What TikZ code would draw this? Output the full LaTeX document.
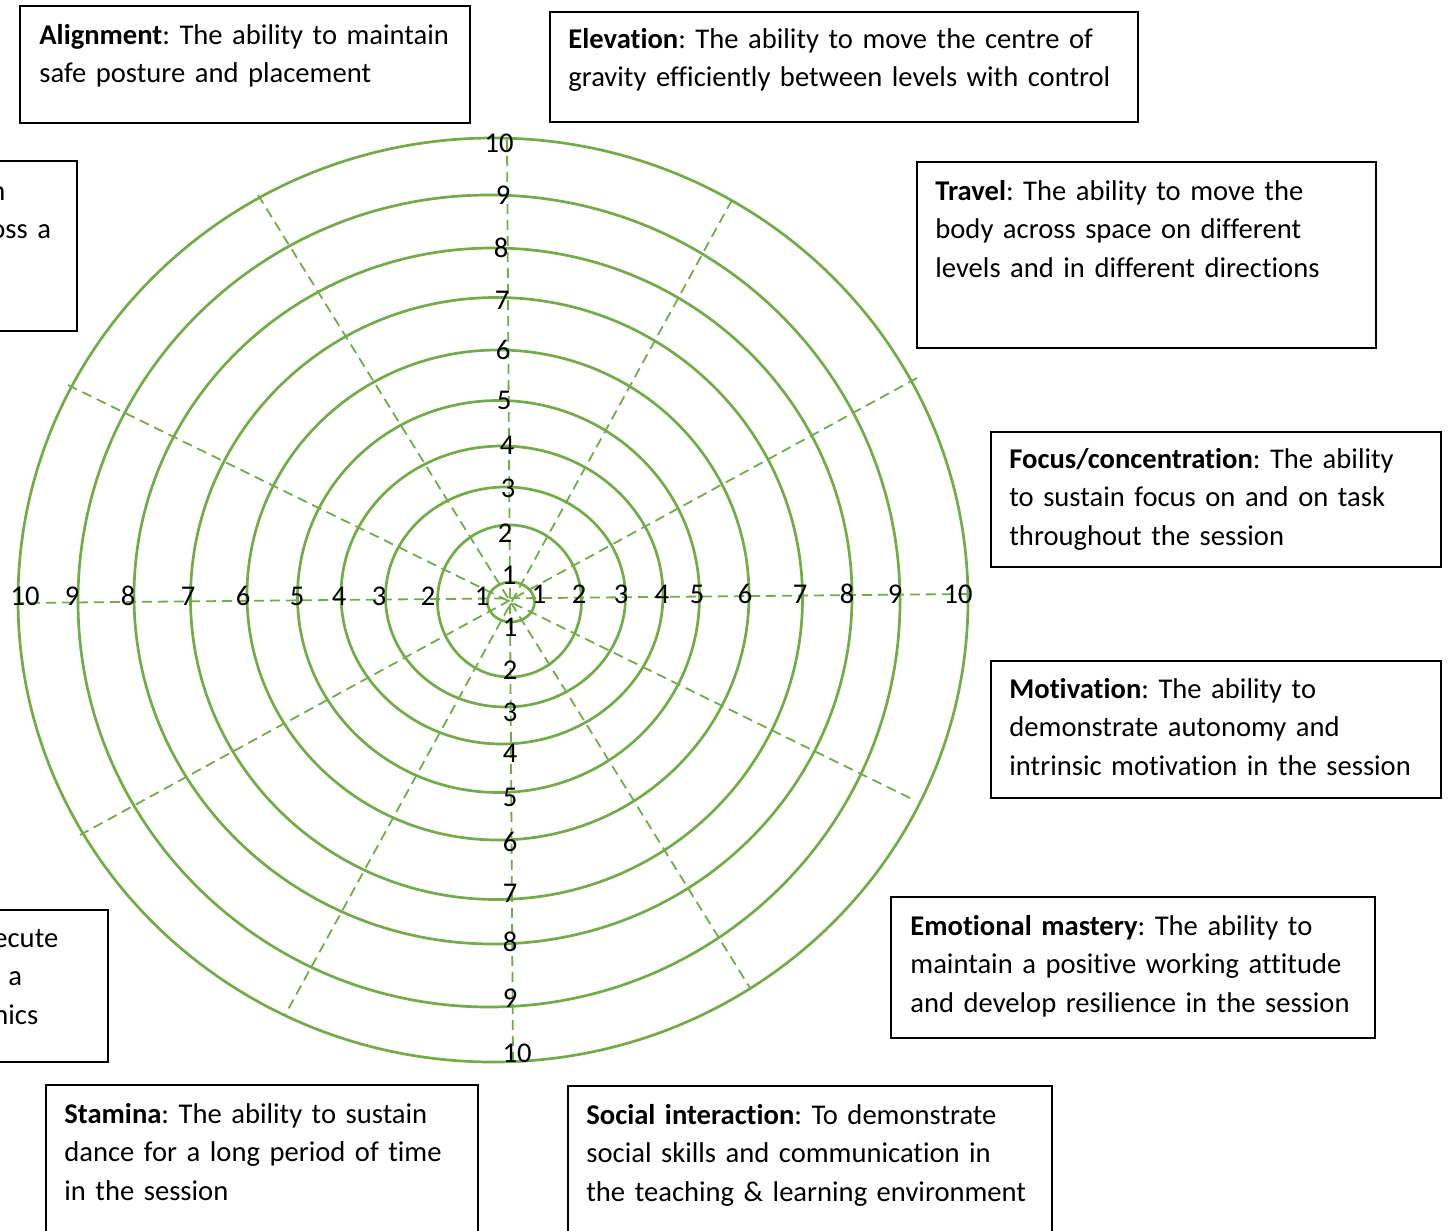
\documentclass[tikz,border=0pt]{standalone}
\usepackage{fontspec}
\setmainfont{Carlito}[Ligatures=NoCommon]
\usetikzlibrary{fit}
\definecolor{wheelgreen}{RGB}{112,173,71}
\frenchspacing
\tikzset{
  ring/.style={draw=wheelgreen,line width=1.35pt},
  spoke/.style={draw=wheelgreen,line width=0.9pt,dash pattern=on 5pt off 3pt},
  frame/.style={draw=black,line width=0.7pt,inner sep=0pt},
  blurb/.style={anchor=base west,inner sep=0pt,text width=300pt,align=left,
    font=\fontsize{14.3}{19.3}\selectfont},
  tick/.style={inner sep=0pt,font=\fontsize{14.3}{17}\selectfont}
}
\begin{document}
\begin{tikzpicture}[x=0.5pt,y=-0.5pt]
    \useasboundingbox (0,0) rectangle (1453,1231);
    \clip (0,0) rectangle (1453,1231);
    % rings 1..10
    \draw[ring] (511,602) ellipse [x radius=23.5, y radius=20];
    \draw[ring] (509.5,601) ellipse [x radius=72, y radius=76];
    \draw[ring] (505.5,597) ellipse [x radius=120, y radius=110];
    \draw[ring] (502,595) ellipse [x radius=161, y radius=149];
    \draw[ring] (498.5,596.5) ellipse [x radius=201, y radius=196];
    \draw[ring] (498,595) ellipse [x radius=251, y radius=245];
    \draw[ring] (496.5,598.5) ellipse [x radius=306, y radius=301];
    \draw[ring] (493,596) ellipse [x radius=359, y radius=348];
    \draw[ring] (489,601) ellipse [x radius=411, y radius=406];
    \draw[ring] (493,600) ellipse [x radius=475, y radius=462];
    % spoke ends
    \coordinate (P0) at (968,594);
    \coordinate (P1) at (917,378);
    \coordinate (P2) at (732,200);
    \coordinate (P3) at (507,140);
    \coordinate (P4) at (258,195);
    \coordinate (P5) at (68,385);
    \coordinate (P6) at (18,603);
    \coordinate (P7) at (80,835);
    \coordinate (P8) at (285,1015);
    \coordinate (P9) at (513,1062);
    \coordinate (P10) at (750,988);
    \coordinate (P11) at (910,798);
    \draw[spoke] (P0) -- (P6);
    \draw[spoke] (P1) -- (P7);
    \draw[spoke] (P2) -- (P8);
    \draw[spoke] (P3) -- (P9);
    \draw[spoke] (P4) -- (P10);
    \draw[spoke] (P5) -- (P11);
    % scale, west
    \node[tick] (W10) at (25,596) {10};
    \node[tick] (W9) at (72,596) {9};
    \node[tick] (W8) at (128,596) {8};
    \node[tick] (W7) at (188,596) {7};
    \node[tick] (W6) at (243,596) {6};
    \node[tick] (W5) at (297,596) {5};
    \node[tick] (W4) at (339,596) {4};
    \node[tick] (W3) at (379,596) {3};
    \node[tick] (W2) at (428,596) {2};
    \node[tick] (W1) at (482,596) {1};
    % scale, east
    \node[tick] (E1) at (539,594) {1};
    \node[tick] (E2) at (579,594) {2};
    \node[tick] (E3) at (621,594) {3};
    \node[tick] (E4) at (662,594) {4};
    \node[tick] (E5) at (697,594) {5};
    \node[tick] (E6) at (745,594) {6};
    \node[tick] (E7) at (800,594) {7};
    \node[tick] (E8) at (847,594) {8};
    \node[tick] (E9) at (895,594) {9};
    \node[tick] (E10) at (958,594) {10};
    % scale, north
    \node[tick] (N10) at (499,143) {10};
    \node[tick] (N9) at (503,195) {9};
    \node[tick] (N8) at (501,248) {8};
    \node[tick] (N7) at (502,300) {7};
    \node[tick] (N6) at (503,350) {6};
    \node[tick] (N5) at (504,400) {5};
    \node[tick] (N4) at (507,445) {4};
    \node[tick] (N3) at (508,488) {3};
    \node[tick] (N2) at (505,533) {2};
    \node[tick] (N1) at (509,575) {1};
    % scale, south
    \node[tick] (S1) at (510,627) {1};
    \node[tick] (S2) at (510,670) {2};
    \node[tick] (S3) at (510,712) {3};
    \node[tick] (S4) at (510,753) {4};
    \node[tick] (S5) at (510,797) {5};
    \node[tick] (S6) at (510,842) {6};
    \node[tick] (S7) at (510,893) {7};
    \node[tick] (S8) at (510,942) {8};
    \node[tick] (S9) at (510,998) {9};
    \node[tick] (S10) at (517,1053) {10};
    % boxes
    \node[frame, fit={(20,6) (470,123)}] (B1) {};
    \node[blurb] (T1) at (39,44) {\textbf{Alignment}: The ability to maintain\\
      safe posture and placement};
    \node[frame, fit={(550,12) (1138,122)}] (B2) {};
    \node[blurb] (T2) at (568,48) {\textbf{Elevation}: The ability to move the centre of\\
      gravity efficiently between levels with control};
    \node[frame, fit={(917,162) (1376,348)}] (B3) {};
    \node[blurb] (T3) at (935,200) {\textbf{Travel}: The ability to move the\\
      body across space on different\\ levels and in different directions};
    \node[frame, fit={(991,432) (1441,567)}] (B4) {};
    \node[blurb] (T4) at (1009,468) {\textbf{Focus/concentration}: The ability\\
      to sustain focus on and on task\\ throughout the session};
    \node[frame, fit={(991,661) (1441,798)}] (B5) {};
    \node[blurb] (T5) at (1009,698) {\textbf{Motivation}: The ability to\\
      demonstrate autonomy and\\ intrinsic motivation in the session};
    \node[frame, fit={(891,897) (1375,1038)}] (B6) {};
    \node[blurb] (T6) at (910,935) {\textbf{Emotional mastery}: The ability to\\
      maintain a positive working attitude\\ and develop resilience in the session};
    \node[frame, fit={(568,1086) (1052,1260)}] (B7) {};
    \node[blurb] (T7) at (586,1124) {\textbf{Social interaction}: To demonstrate\\
      social skills and communication in\\ the teaching \& learning environment};
    \node[frame, fit={(46,1085) (478,1260)}] (B8) {};
    \node[blurb] (T8) at (64,1123) {\textbf{Stamina}: The ability to sustain\\
      dance for a long period of time\\ in the session};
    \node[frame, fit={(-20,910) (108,1062)}] (B9) {};
    \node[blurb] (T9) at (-7,947) {ecute\\ \hspace*{7.5pt}a\\ nics};
    \node[frame, fit={(-20,161) (77,331)}] (B10) {};
    \node[blurb] (T10) at (-10,200) {n\\ oss a};
\end{tikzpicture}
\end{document}
